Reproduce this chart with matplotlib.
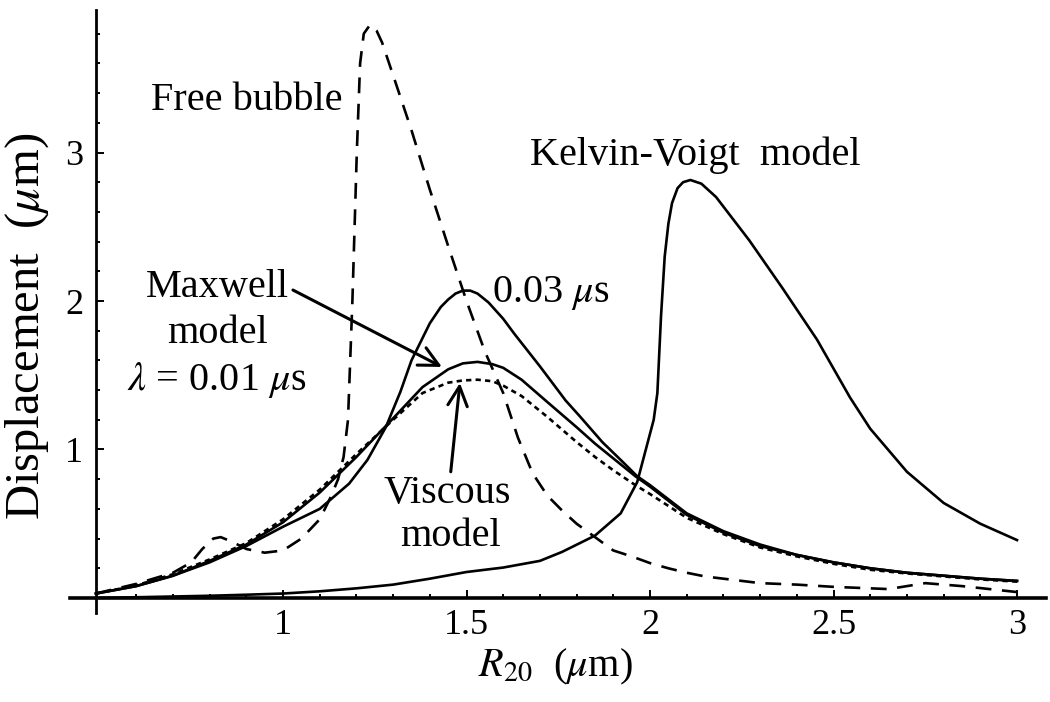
import matplotlib
matplotlib.use('Agg')
import matplotlib.pyplot as plt
from matplotlib.ticker import FixedLocator, FixedFormatter

plt.rcParams['font.family'] = ['Liberation Serif', 'DejaVu Serif']
plt.rcParams['mathtext.fontset'] = 'stix'

# free bubble (dashed)
r_free = [0.49, 0.6, 0.7, 0.75, 0.78, 0.81, 0.83, 0.86, 0.9, 0.95, 1.0, 1.05, 1.1, 1.13,
          1.15, 1.165, 1.177, 1.189, 1.201, 1.21, 1.22, 1.237, 1.255, 1.27, 1.3, 1.35, 1.4, 1.45,
          1.5, 1.55, 1.6, 1.64, 1.68, 1.72, 1.76, 1.8, 1.85, 1.9, 1.95, 2.0, 2.05, 2.1, 2.15,
          2.2, 2.3, 2.4, 2.5, 2.65, 2.75, 2.85, 3.0]
d_free = [0.03, 0.095, 0.17, 0.24, 0.33, 0.40, 0.41, 0.38, 0.33, 0.305, 0.32, 0.40, 0.53, 0.68,
          0.80, 0.95, 1.2, 2.0, 3.0, 3.6, 3.8, 3.86, 3.82, 3.74, 3.52, 3.15, 2.75, 2.37,
          2.0, 1.66, 1.38, 1.08, 0.84, 0.69, 0.59, 0.50, 0.41, 0.32, 0.28, 0.235, 0.20, 0.17, 0.145,
          0.13, 0.10, 0.09, 0.075, 0.06, 0.10, 0.08, 0.04]

# viscous model (dotted)
r_visc = [0.49, 0.6, 0.7, 0.8, 0.9, 1.0, 1.1, 1.2, 1.3, 1.38, 1.45, 1.49, 1.53, 1.57, 1.6, 1.65,
          1.72, 1.8, 1.85, 1.9, 1.96, 2.0, 2.1, 2.2, 2.3, 2.4, 2.5, 2.6, 2.7, 2.8, 2.9, 3.0]
d_visc = [0.03, 0.085, 0.16, 0.26, 0.37, 0.53, 0.73, 0.97, 1.2, 1.38, 1.45, 1.465, 1.47, 1.46, 1.43,
          1.36, 1.22, 1.05, 0.95, 0.86, 0.76, 0.70, 0.54, 0.43, 0.34, 0.28, 0.23, 0.19, 0.165, 0.145,
          0.125, 0.11]

# Maxwell model, lambda = 0.01 us
r_max1 = [0.49, 0.6, 0.7, 0.8, 0.9, 1.0, 1.1, 1.2, 1.3, 1.38, 1.45, 1.49, 1.53, 1.57, 1.6, 1.65,
          1.72, 1.8, 1.85, 1.9, 1.96, 2.0, 2.1, 2.2, 2.3, 2.4, 2.5, 2.6, 2.7, 2.8, 2.9, 3.0]
d_max1 = [0.03, 0.08, 0.15, 0.25, 0.36, 0.51, 0.71, 0.95, 1.21, 1.42, 1.54, 1.58, 1.59, 1.575, 1.55,
          1.47, 1.32, 1.15, 1.04, 0.94, 0.82, 0.75, 0.56, 0.44, 0.35, 0.29, 0.24, 0.20, 0.17, 0.15,
          0.13, 0.115]

# Maxwell model, lambda = 0.03 us
r_max3 = [0.49, 0.6, 0.7, 0.8, 0.9, 1.0, 1.1, 1.18, 1.23, 1.28, 1.32, 1.35, 1.4, 1.43, 1.45,
          1.47, 1.49, 1.51, 1.53, 1.56, 1.6, 1.63, 1.7, 1.77, 1.81, 1.87, 1.92, 1.965, 2.0, 2.1,
          2.2, 2.3, 2.4, 2.5, 2.6, 2.7, 2.8, 2.9, 3.0]
d_max3 = [0.03, 0.08, 0.15, 0.24, 0.35, 0.48, 0.60, 0.77, 0.93, 1.15, 1.39, 1.60, 1.85, 1.96, 2.01,
          2.05, 2.07, 2.07, 2.05, 1.99, 1.88, 1.78, 1.56, 1.33, 1.22, 1.05, 0.93, 0.82, 0.76, 0.57,
          0.45, 0.36, 0.29, 0.24, 0.20, 0.17, 0.15, 0.13, 0.115]

# Kelvin-Voigt model
r_kv = [0.49, 0.6, 0.7, 0.8, 0.9, 1.0, 1.1, 1.2, 1.3, 1.4, 1.5, 1.6, 1.7, 1.76, 1.85, 1.92,
        1.965, 1.995, 2.01, 2.02, 2.03, 2.04, 2.05, 2.06, 2.075, 2.09, 2.11, 2.14, 2.18, 2.27,
        2.36, 2.455, 2.545, 2.6, 2.7, 2.8, 2.9, 3.0]
d_kv = [0.0, 0.005, 0.01, 0.015, 0.022, 0.03, 0.045, 0.065, 0.09, 0.13, 0.175, 0.205, 0.25, 0.31,
        0.42, 0.57, 0.78, 1.06, 1.2, 1.38, 1.9, 2.3, 2.52, 2.66, 2.76, 2.80, 2.815, 2.79, 2.70,
        2.41, 2.09, 1.74, 1.35, 1.14, 0.85, 0.64, 0.50, 0.39]

x_major = [1, 1.5, 2, 2.5, 3]
x_labels = ['1', '1.5', '2', '2.5', '3']
y_major = [1, 2, 3]
y_labels = ['1', '2', '3']

fig = plt.figure(figsize=(10.5, 7.02), dpi=100)
ax = fig.add_axes([0.0667, 0.1268, 0.9295, 0.859])

lw = 1.9
ax.plot(r_free, d_free, color='k', lw=lw, linestyle=(0, (6, 4)))
ax.plot(r_visc, d_visc, color='k', lw=lw, linestyle=(0, (2, 1.6)))
ax.plot(r_max1, d_max1, color='k', lw=lw)
ax.plot(r_max3, d_max3, color='k', lw=lw)
ax.plot(r_kv, d_kv, color='k', lw=lw)

ax.set_xlim(0.4196, 3.079)
ax.set_ylim(-0.101, 3.96)

# axes cross like Mathematica output
for s in ['top', 'right']:
    ax.spines[s].set_visible(False)
ax.spines['left'].set_position(('data', 0.49))
ax.spines['bottom'].set_position(('data', 0))
ax.spines['left'].set_linewidth(2.0)
ax.spines['bottom'].set_linewidth(2.6)

ax.xaxis.set_major_locator(FixedLocator(x_major))
ax.xaxis.set_major_formatter(FixedFormatter(x_labels))
ax.xaxis.set_minor_locator(FixedLocator([i / 10 for i in range(6, 31) if i % 5]))
ax.yaxis.set_major_locator(FixedLocator(y_major))
ax.yaxis.set_major_formatter(FixedFormatter(y_labels))
ax.yaxis.set_minor_locator(FixedLocator([i / 5 for i in range(1, 20) if i % 5]))

ax.tick_params(which='both', direction='in', width=1.4, labelsize=26)
ax.tick_params(which='major', length=5.5)
ax.tick_params(which='minor', length=3)
ax.tick_params(axis='x', pad=8)
ax.tick_params(axis='y', pad=9)

fs = 29
ax.text(1.161, 3.286, 'Free bubble', fontsize=fs, ha='right', va='baseline')
ax.text(1.673, 2.916, 'Kelvin-Voigt  model', fontsize=fs, ha='left', va='baseline')
ax.text(0.82, 2.027, 'Maxwell', fontsize=fs, ha='center', va='baseline')
ax.text(0.82, 1.717, 'model', fontsize=fs, ha='center', va='baseline')
ax.text(0.82, 1.401, r'$\lambda$ = 0.01 $\mu$s', fontsize=fs, ha='center', va='baseline')
ax.text(1.5695, 1.993, r'0.03 $\mu$s', fontsize=fs, ha='left', va='baseline')
ax.text(1.447, 0.64, 'Viscous', fontsize=fs, ha='center', va='baseline')
ax.text(1.455, 0.35, 'model', fontsize=fs, ha='center', va='baseline')

arrow = dict(arrowstyle='->,head_length=0.7,head_width=0.35', lw=2.2, color='k',
             mutation_scale=20, shrinkA=0, shrinkB=0)
ax.annotate('', xy=(1.433, 1.556), xytext=(1.027, 2.074), arrowprops=arrow)
ax.annotate('', xy=(1.482, 1.448), xytext=(1.457, 0.85), arrowprops=arrow)

fig.text(0.026, 0.535, r'Displacement  ($\mu$m)', fontsize=35, rotation=90,
         ha='center', va='center')
fig.text(0.5286, 0.05, r'$R_{20}$  ($\mu$m)', fontsize=29, ha='center', va='center')

fig.savefig('out.png', dpi=100)
